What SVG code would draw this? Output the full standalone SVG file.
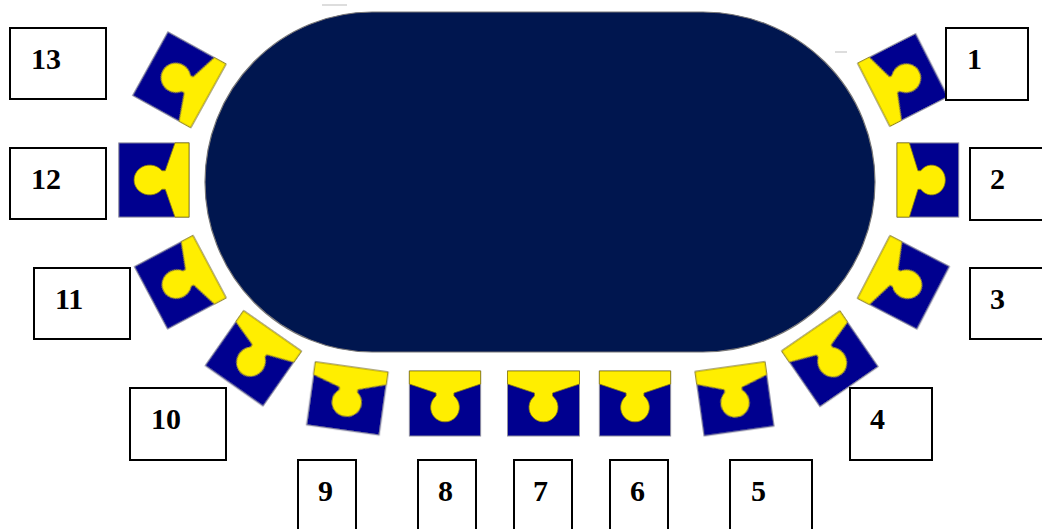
<svg xmlns="http://www.w3.org/2000/svg" xmlns:xlink="http://www.w3.org/1999/xlink" width="1042" height="529" viewBox="0 0 1042 529">
<style>
.body{fill:#00008f;stroke:#8f8f9f;stroke-width:1}
.top{fill:#ffee00;stroke:#8a7c10;stroke-width:.8;stroke-linejoin:round}
.box{fill:#fff;stroke:#000;stroke-width:2}
.lbl{font:bold 30px "Liberation Serif","Times New Roman",serif;fill:#000}
.smudge{fill:none;stroke:#bbb;stroke-width:1}
.soft{filter:url(#soft)}
</style>
<defs>
<filter id="soft" x="-10%" y="-10%" width="120%" height="120%"><feGaussianBlur stdDeviation="0.55"/></filter>
<g id="seat">
<rect class="body" x="-36" y="0" width="72" height="65"/>
<path class="top" d="M-36,0H36V13L9,22V25A14.5,14.5 0 1 1 -9,25V22L-36,13Z"/>
</g>
</defs>
<rect width="1042" height="529" fill="#fff"/>
<g id="table">
<path class="soft" d="M372,12H703A172,170 0 0 1 875,182A172,170 0 0 1 703,352H372A167,170 0 0 1 205,182A167,170 0 0 1 372,12Z" fill="#00134f" stroke="#777" stroke-width="1.2"/>
<path class="smudge" d="M322,5H347M835,52H847"/>
</g>
<g id="seat-1"><use class="soft" xlink:href="#seat" href="#seat" transform="translate(873.8,94.7) rotate(-117) scale(.985,1)"/><rect class="box" x="946" y="28" width="82" height="72"/><text class="lbl" x="967" y="69">1</text></g>
<g id="seat-2"><use class="soft" xlink:href="#seat" href="#seat" transform="translate(897,180) rotate(-90) scale(1.03,.95)"/><rect class="box" x="970" y="148" width="90" height="72"/><text class="lbl" x="990" y="189">2</text></g>
<g id="seat-3"><use class="soft" xlink:href="#seat" href="#seat" transform="translate(873.8,267) rotate(-62.6) scale(.98,1.03)"/><rect class="box" x="970" y="268" width="90" height="71"/><text class="lbl" x="990" y="309">3</text></g>
<g id="seat-4"><use class="soft" xlink:href="#seat" href="#seat" transform="translate(810.8,331) rotate(-34.5) scale(.98,1.04)"/><rect class="box" x="850" y="388" width="82" height="72"/><text class="lbl" x="870" y="429">4</text></g>
<g id="seat-5"><use class="soft" xlink:href="#seat" href="#seat" transform="translate(730,366.7) rotate(-8) scale(.98,1)"/><rect class="box" x="730" y="460" width="82" height="80"/><text class="lbl" x="751" y="501">5</text></g>
<g id="seat-6"><use class="soft" xlink:href="#seat" href="#seat" transform="translate(635,371) scale(.99,1)"/><rect class="box" x="610" y="460" width="58" height="80"/><text class="lbl" x="630" y="501">6</text></g>
<g id="seat-7"><use class="soft" xlink:href="#seat" href="#seat" transform="translate(543.5,371)"/><rect class="box" x="514" y="460" width="58" height="80"/><text class="lbl" x="533" y="501">7</text></g>
<g id="seat-8"><use class="soft" xlink:href="#seat" href="#seat" transform="translate(445,371) scale(.99,1)"/><rect class="box" x="418" y="460" width="58" height="80"/><text class="lbl" x="438" y="501">8</text></g>
<g id="seat-9"><use class="soft" xlink:href="#seat" href="#seat" transform="translate(351.7,367) rotate(8) scale(1.02,.98)"/><rect class="box" x="298" y="460" width="58" height="80"/><text class="lbl" x="318" y="501">9</text></g>
<g id="seat-10"><use class="soft" xlink:href="#seat" href="#seat" transform="translate(272.5,331) rotate(35) scale(.98,1.03)"/><rect class="box" x="130" y="388" width="96" height="72"/><text class="lbl" x="151" y="429">10</text></g>
<g id="seat-11"><use class="soft" xlink:href="#seat" href="#seat" transform="translate(209.5,266.7) rotate(62) scale(.98,1.02)"/><rect class="box" x="34" y="268" width="96" height="71"/><text class="lbl" x="55" y="309">11</text></g>
<g id="seat-12"><use class="soft" xlink:href="#seat" href="#seat" transform="translate(189,180) rotate(90) scale(1.03,1.08)"/><rect class="box" x="10" y="148" width="96" height="71"/><text class="lbl" x="31" y="189">12</text></g>
<g id="seat-13"><use class="soft" xlink:href="#seat" href="#seat" transform="translate(208.3,95.8) rotate(119) scale(1.01,1.02)"/><rect class="box" x="10" y="28" width="96" height="71"/><text class="lbl" x="31" y="69">13</text></g>
</svg>
